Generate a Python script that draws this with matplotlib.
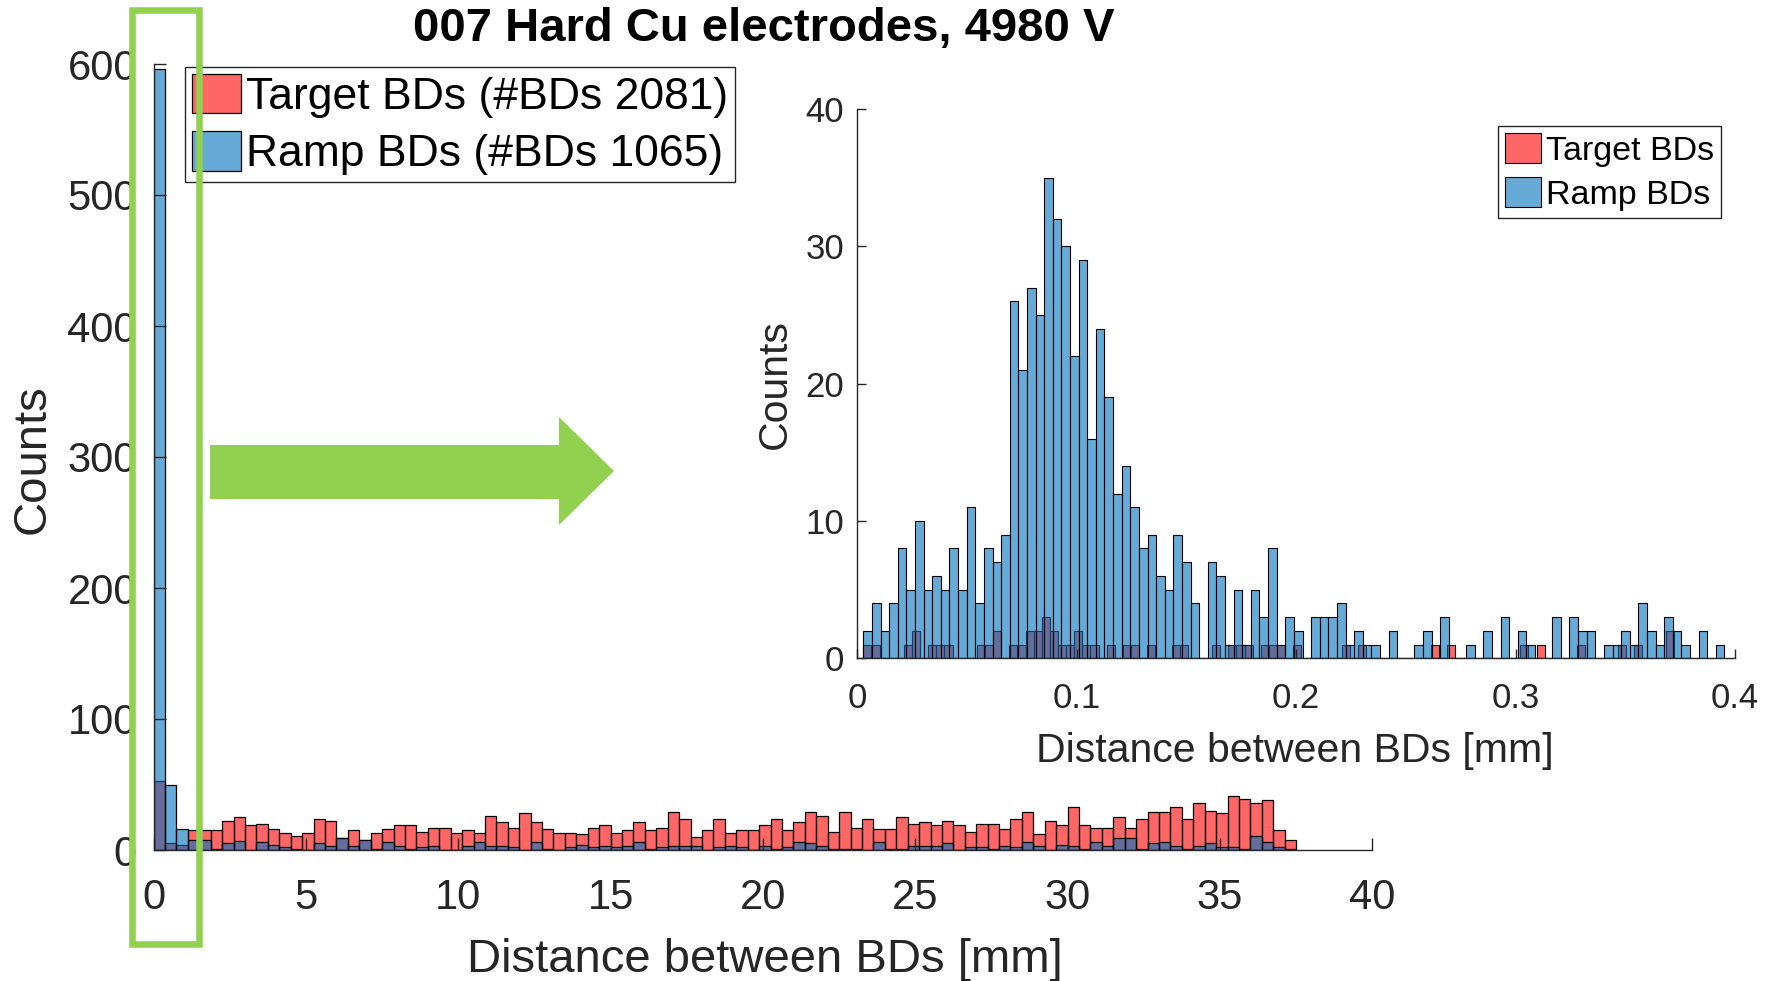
import numpy as np
import matplotlib
matplotlib.use('Agg')
import matplotlib.pyplot as plt
from matplotlib.patches import Rectangle, Polygon

plt.rcParams['font.family'] = ['Liberation Sans', 'DejaVu Sans']

# full range: 100 bins of 0.375 mm from 0 mm
full_start = 0.0
full_width = 0.375
target_full = [53, 5, 4, 15, 15, 15, 22, 25, 19, 20,
               16, 13, 11, 13, 24, 22, 9, 15, 8, 13,
               16, 19, 19, 14, 17, 17, 13, 15, 13, 26,
               21, 17, 28, 21, 16, 13, 13, 12, 17, 19,
               13, 15, 21, 15, 17, 29, 24, 10, 15, 24,
               13, 15, 15, 19, 24, 15, 21, 29, 26, 14,
               29, 17, 24, 16, 16, 25, 20, 21, 19, 22,
               19, 14, 20, 20, 16, 24, 29, 12, 22, 19,
               33, 19, 17, 17, 25, 17, 24, 29, 29, 33,
               24, 36, 30, 28, 41, 39, 36, 38, 15, 8]
ramp_full = [596, 50, 16, 8, 8, 1, 5, 7, 0, 6,
             4, 2, 1, 0, 5, 3, 9, 3, 8, 1,
             6, 3, 1, 2, 3, 0, 0, 3, 6, 3,
             3, 2, 0, 6, 1, 0, 2, 4, 2, 3,
             2, 3, 6, 1, 2, 3, 3, 3, 0, 2,
             3, 2, 0, 3, 1, 2, 6, 5, 3, 1,
             1, 1, 0, 6, 1, 1, 3, 3, 3, 5,
             0, 2, 2, 1, 3, 2, 6, 3, 0, 4,
             3, 1, 6, 3, 9, 9, 1, 5, 6, 3,
             1, 3, 5, 2, 2, 1, 11, 6, 2, 1]

# first 0.4 mm: 100 bins per data set, each with its own width
zoom_start = 0.0029
target_zoom_width = 0.003695
ramp_zoom_width = 0.003923
target_zoom = [1, 1, 0, 0, 0, 1, 2, 0, 1, 1,
               1, 0, 0, 0, 1, 1, 2, 0, 1, 1,
               2, 2, 3, 2, 1, 1, 2, 1, 1, 0,
               1, 0, 1, 1, 0, 1, 0, 0, 1, 1,
               0, 0, 0, 1, 0, 1, 1, 1, 0, 1,
               1, 1, 0, 1, 0, 0, 0, 0, 0, 1,
               0, 1, 0, 0, 0, 0, 0, 0, 0, 0,
               1, 0, 1, 0, 0, 0, 0, 0, 0, 0,
               0, 1, 0, 1, 0, 0, 0, 0, 1, 0,
               0, 0, 0, 1, 0, 1, 0, 0, 0, 2]
ramp_zoom = [2, 4, 2, 4, 8, 5, 10, 5, 6, 5,
             8, 5, 11, 4, 8, 7, 9, 26, 21, 27,
             25, 35, 32, 30, 22, 29, 16, 24, 19, 12,
             14, 11, 8, 9, 6, 5, 9, 7, 4, 0,
             7, 6, 1, 5, 1, 5, 3, 8, 1, 3,
             2, 0, 3, 3, 3, 4, 1, 2, 1, 1,
             0, 2, 0, 0, 1, 2, 0, 3, 0, 0,
             1, 0, 2, 0, 3, 0, 2, 1, 0, 0,
             3, 0, 3, 2, 2, 0, 1, 1, 2, 1,
             4, 2, 1, 3, 2, 1, 0, 2, 0, 1]

title = '007 Hard Cu electrodes, 4980 V'
n_target = 2081
n_ramp = 1065
xlab = 'Distance between BDs [mm]'

RED = (1, 0, 0, 0.6)
BLUE = (0, 0.447, 0.741, 0.6)
AXCOL = '#262626'
GREEN = '#92D050'

W, H = 1777, 981
fig = plt.figure(figsize=(W / 100, H / 100), dpi=100)


def box(x0, y0, x1, y1):
    # pixel corners (from top left) -> figure fraction rect
    return [x0 / W, 1 - y1 / H, (x1 - x0) / W, (y1 - y0) / H]


def hist_bars(ax, start, width, counts, color, label, lw):
    left = start + width * np.arange(len(counts))
    ax.bar(left, counts, width=width, align='edge', color=color,
           edgecolor='black', linewidth=lw, label=label)


def style(ax, size, ticklen, xpad, ypad):
    for s in ['top', 'right']:
        ax.spines[s].set_visible(False)
    for s in ['left', 'bottom']:
        ax.spines[s].set_color(AXCOL)
        ax.spines[s].set_linewidth(1.0)
    ax.tick_params(direction='in', length=ticklen, width=1.0, colors=AXCOL,
                   labelsize=size, labelcolor=AXCOL)
    ax.tick_params(axis='x', pad=xpad)
    ax.tick_params(axis='y', pad=ypad)


# main histogram
ax = fig.add_axes(box(153.6, 64, 1372.3, 850))
hist_bars(ax, full_start, full_width, target_full, RED,
          'Target BDs (#BDs %d)' % n_target, 0.9)
hist_bars(ax, full_start, full_width, ramp_full, BLUE,
          'Ramp BDs (#BDs %d)' % n_ramp, 0.9)
ax.set_xlim(0, 40)
ax.set_ylim(0, 600)
ax.set_xticks(np.arange(0, 41, 5))
ax.set_yticks(np.arange(0, 601, 100))
style(ax, 30, 8.5, 20, 12)
ax.legend(loc='upper left', bbox_to_anchor=(185 / W, 1 - 67 / H),
          bbox_transform=fig.transFigure, fontsize=32, fancybox=False,
          edgecolor=AXCOL, framealpha=1, borderaxespad=0, borderpad=0.15,
          handlelength=1.12, handleheight=1.0, handletextpad=0.1,
          labelspacing=0.3)

# zoom on small distances
ax2 = fig.add_axes(box(857, 109, 1735, 658.3))
hist_bars(ax2, zoom_start, target_zoom_width, target_zoom, RED,
          'Target BDs', 0.8)
hist_bars(ax2, zoom_start, ramp_zoom_width, ramp_zoom, BLUE,
          'Ramp BDs', 0.8)
ax2.set_xlim(0, 0.4)
ax2.set_ylim(0, 40)
ax2.set_xticks([0, 0.1, 0.2, 0.3, 0.4])
ax2.set_xticklabels(['0', '0.1', '0.2', '0.3', '0.4'])
ax2.set_yticks(np.arange(0, 41, 10))
style(ax2, 25, 6.3, 17, 9.4)
ax2.legend(loc='upper left', bbox_to_anchor=(1498 / W, 1 - 126 / H),
           bbox_transform=fig.transFigure, fontsize=24.5, fancybox=False,
           edgecolor=AXCOL, framealpha=1, borderaxespad=0, borderpad=0.2,
           handlelength=1.06, handleheight=1.0, handletextpad=0.15,
           labelspacing=0.3)

# titles and axis labels
fig.text(764 / W, 1 - 29.5 / H, title, ha='center', va='center',
         fontsize=34, fontweight='bold')
fig.text(765 / W, 1 - 960 / H, xlab, ha='center', va='center',
         fontsize=34, color=AXCOL)
fig.text(33 / W, 1 - 459 / H, 'Counts', ha='center', va='center',
         rotation=90, fontsize=34, color=AXCOL)
fig.text(1295 / W, 1 - 751 / H, xlab, ha='center', va='center',
         fontsize=29.5, color=AXCOL)
fig.text(775 / W, 1 - 384 / H, 'Counts', ha='center', va='center',
         rotation=90, fontsize=29.5, color=AXCOL)

# green frame around the first bins and arrow towards the zoom
frame = Rectangle((132 / W, 1 - 944 / H), 67 / W, (944 - 9.5) / H,
                  transform=fig.transFigure, fill=False,
                  edgecolor=GREEN, linewidth=4.7, zorder=10)
fig.add_artist(frame)
arrow_px = [(210, 445), (559, 445), (559, 417), (614, 471),
            (559, 525), (559, 499), (210, 499)]
arrow = Polygon([(x / W, 1 - y / H) for x, y in arrow_px], closed=True,
                transform=fig.transFigure, facecolor=GREEN,
                edgecolor='none', zorder=10)
fig.add_artist(arrow)

fig.savefig('out.png', dpi=100)
